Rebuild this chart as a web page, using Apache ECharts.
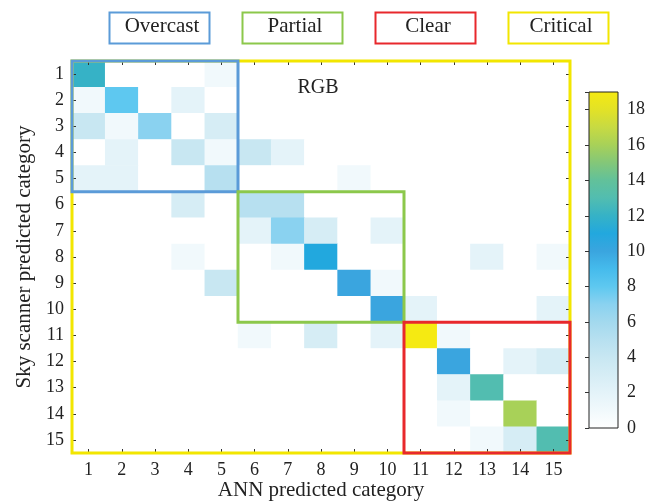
<!DOCTYPE html>
<html>
<head>
<meta charset="utf-8">
<script src="https://cdn.jsdelivr.net/npm/echarts@6/dist/echarts.min.js"></script>
<style>
  html, body { margin: 0; padding: 0; background: #ffffff; }
  #chart { width: 663px; height: 502px; }
</style>
</head>
<body>
<div id="chart"></div>
<script>
// Sky categories 1..15 on both axes
const categories = ['1','2','3','4','5','6','7','8','9','10','11','12','13','14','15'];

// Confusion counts: one row per sky-scanner category, one column per ANN category
const counts = [
  [12, 0, 0, 0, 1, 0, 0, 0, 0, 0, 0, 0, 0, 0, 0],
  [ 1, 8, 0, 2, 0, 0, 0, 0, 0, 0, 0, 0, 0, 0, 0],
  [ 4, 1, 7, 0, 3, 0, 0, 0, 0, 0, 0, 0, 0, 0, 0],
  [ 0, 2, 0, 4, 1, 4, 2, 0, 0, 0, 0, 0, 0, 0, 0],
  [ 2, 2, 0, 0, 5, 0, 0, 0, 1, 0, 0, 0, 0, 0, 0],
  [ 0, 0, 0, 3, 0, 5, 5, 0, 0, 0, 0, 0, 0, 0, 0],
  [ 0, 0, 0, 0, 0, 2, 7, 3, 0, 2, 0, 0, 0, 0, 0],
  [ 0, 0, 0, 1, 0, 0, 1,11, 0, 0, 0, 0, 2, 0, 1],
  [ 0, 0, 0, 0, 4, 0, 0, 0,10, 1, 0, 0, 0, 0, 0],
  [ 0, 0, 0, 0, 0, 0, 0, 0, 0,10, 2, 0, 0, 0, 2],
  [ 0, 0, 0, 0, 0, 1, 0, 3, 0, 2,19, 1, 0, 0, 0],
  [ 0, 0, 0, 0, 0, 0, 0, 0, 0, 0, 0,10, 0, 2, 3],
  [ 0, 0, 0, 0, 0, 0, 0, 0, 0, 0, 0, 2,13, 0, 0],
  [ 0, 0, 0, 0, 0, 0, 0, 0, 0, 0, 0, 1, 0,16, 0],
  [ 0, 0, 0, 0, 0, 0, 0, 0, 0, 0, 0, 0, 1, 3,13]
];

// Colour scale range and colour bar ticks
const scaleMin = 0;
const scaleMax = 19;
const scaleTicks = [0, 2, 4, 6, 8, 10, 12, 14, 16, 18];
// Colours at 0, 1, 2, ... 19
const scaleColors = [
  '#ffffff', '#f1f9fc', '#e4f3f9', '#d6edf5', '#c8e7f2', '#b7e0f0', '#a3d9ee',
  '#8ad2f0', '#5ec8f0', '#45bbec', '#3aa5df', '#22a8de', '#36b2c6', '#52bdb0',
  '#62c19a', '#84c778', '#a8d158', '#c8da42', '#e3e226', '#f5ea12'
];

// Sky-condition groups (index ranges on both axes); order = drawing order
const groupNames  = ['Critical', 'Overcast', 'Partial', 'Clear'];
const groupFrom   = [0, 0, 5, 10];
const groupTo     = [14, 4, 9, 14];
const groupColors = ['#f2e600', '#5b9bd8', '#8cc84b', '#e8282c'];

// Legend boxes, left to right
const legendOrder = ['Overcast', 'Partial', 'Clear', 'Critical'];

const panelLabel = 'RGB';
const FONT = 'Liberation Serif';
const TEXT = '#222222';

const heatData = [];
counts.forEach((row, r) => row.forEach((v, c) => heatData.push([c, r, v])));

const groupData = groupNames.map((n, i) => [groupFrom[i], groupTo[i]]);

const chart = echarts.init(document.getElementById('chart'), null, { renderer: 'canvas' });

const legendX = [107, 240, 373, 506];
const legendGraphics = [];
legendOrder.forEach((name, i) => {
  const gi = groupNames.indexOf(name);
  legendGraphics.push({
    type: 'rect', left: legendX[i], top: 10,
    shape: { width: 100, height: 31 },
    style: { fill: 'none', stroke: groupColors[gi], lineWidth: 2 }
  });
  legendGraphics.push({
    type: 'text', x: legendX[i] + 55, y: 26,
    style: { text: name, font: '21px "' + FONT + '"', fill: TEXT, align: 'center', verticalAlign: 'middle' }
  });
});
legendGraphics.push({
  type: 'text', x: 318, y: 88, z: 10,
  style: { text: panelLabel, font: '20px "' + FONT + '"', fill: TEXT, align: 'center', verticalAlign: 'middle' }
});

const tickStyle = { show: true, inside: true, length: 4, alignWithLabel: true, lineStyle: { color: '#333', width: 1 } };
const labelStyle = { fontFamily: FONT, fontSize: 18, color: TEXT };

chart.setOption({
  animation: false,
  backgroundColor: '#ffffff',
  grid: [
    { left: 72, top: 61, width: 498, height: 392, outerBoundsMode: 'none', containLabel: false },
    { left: 589, top: 92, width: 29, height: 336, outerBoundsMode: 'none', containLabel: false }
  ],
  xAxis: [
    {
      type: 'category', data: categories, gridIndex: 0, position: 'bottom', z: 5,
      axisLine: { show: true, lineStyle: { color: '#222', width: 1 } },
      axisTick: tickStyle,
      axisLabel: Object.assign({ margin: 8, interval: 0 }, labelStyle),
      splitLine: { show: false },
      name: 'ANN predicted category', nameLocation: 'middle', nameGap: 27, nameMoveOverlap: false,
      nameTextStyle: { fontFamily: FONT, fontSize: 21, color: TEXT }
    },
    {
      type: 'category', data: categories, gridIndex: 0, position: 'top', z: 5,
      axisLine: { show: true, lineStyle: { color: '#222', width: 1 } },
      axisTick: tickStyle, axisLabel: { show: false }, splitLine: { show: false }
    },
    { type: 'value', gridIndex: 1, min: 0, max: 1, show: false }
  ],
  yAxis: [
    {
      type: 'category', data: categories, gridIndex: 0, position: 'left', inverse: true, z: 5,
      axisLine: { show: true, lineStyle: { color: '#222', width: 1 } },
      axisTick: tickStyle,
      axisLabel: Object.assign({ margin: 8, interval: 0 }, labelStyle),
      splitLine: { show: false },
      name: 'Sky scanner predicted category', nameLocation: 'middle', nameGap: 37, nameMoveOverlap: false,
      nameTextStyle: { fontFamily: FONT, fontSize: 21, color: TEXT }
    },
    {
      type: 'category', data: categories, gridIndex: 0, position: 'right', inverse: true, z: 5,
      axisLine: { show: true, lineStyle: { color: '#222', width: 1 } },
      axisTick: tickStyle, axisLabel: { show: false }, splitLine: { show: false }
    },
    {
      type: 'value', gridIndex: 1, min: scaleMin, max: scaleMax, interval: 2, position: 'right', z: 5,
      axisLine: { show: false },
      axisTick: { show: true, inside: true, length: 4, lineStyle: { color: '#333' } },
      axisLabel: Object.assign({
        margin: 9,
        formatter: v => (scaleTicks.indexOf(v) >= 0 ? String(v) : '')
      }, labelStyle),
      splitLine: { show: false }
    }
  ],
  visualMap: {
    type: 'continuous', show: false, seriesIndex: 0, dimension: 2,
    min: scaleMin, max: scaleMax,
    inRange: { color: scaleColors }
  },
  series: [
    {
      type: 'heatmap', xAxisIndex: 0, yAxisIndex: 0, data: heatData,
      itemStyle: { borderWidth: 0 },
      emphasis: { disabled: true }, silent: true
    },
    {
      // group outlines
      type: 'custom', xAxisIndex: 0, yAxisIndex: 0, z: 6, silent: true,
      data: groupData,
      renderItem: (params, api) => {
        const a = api.value(0), b = api.value(1);
        const p = api.coord([a, a]);
        const s = api.size([1, 1]);
        const n = b - a + 1;
        return {
          type: 'rect',
          shape: { x: p[0] - s[0] / 2, y: p[1] - s[1] / 2, width: n * s[0], height: n * s[1] },
          style: { fill: 'none', stroke: groupColors[params.dataIndex], lineWidth: 3 }
        };
      }
    },
    {
      // colour bar
      type: 'custom', xAxisIndex: 2, yAxisIndex: 2, z: 3, silent: true,
      data: [[scaleMin, scaleMax]],
      renderItem: (params, api) => {
        const p0 = api.coord([0, api.value(0)]);
        const p1 = api.coord([1, api.value(1)]);
        const stops = scaleColors.map((c, i) => ({ offset: i / (scaleColors.length - 1), color: c }));
        return {
          type: 'rect',
          shape: { x: p0[0], y: p1[1], width: p1[0] - p0[0], height: p0[1] - p1[1] },
          style: {
            fill: new echarts.graphic.LinearGradient(0, 1, 0, 0, stops),
            stroke: '#222', lineWidth: 1
          }
        };
      }
    }
  ],
  graphic: legendGraphics
});
</script>
</body>
</html>
